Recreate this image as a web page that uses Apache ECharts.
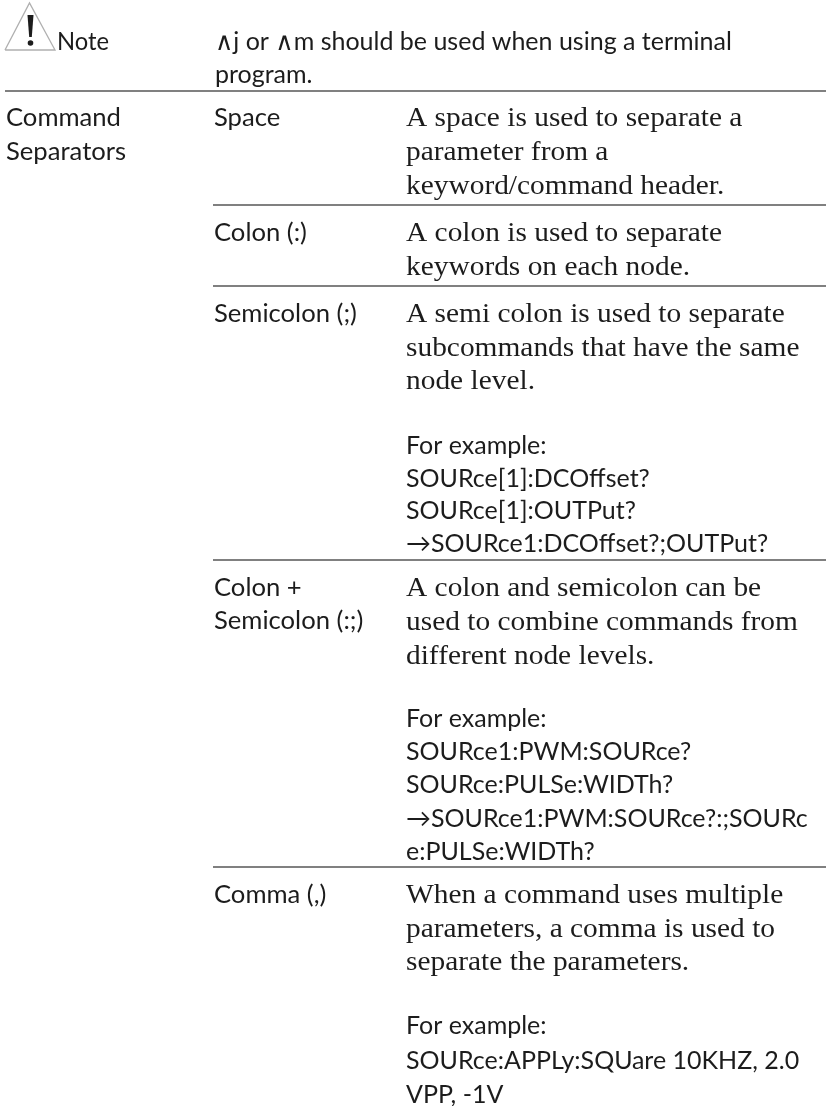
<!DOCTYPE html>
<html>
<head>
<meta charset="utf-8">
<style>
html,body{margin:0;padding:0;background:#fff}
#container{width:826px;height:1106px}
</style>
<script src="https://cdn.jsdelivr.net/npm/echarts@6/dist/echarts.min.js"></script>
</head>
<body>
<div id="container"></div>
<script>
var noteLabel = 'Note';
var noteLines = ['∧j or ∧m should be used when using a terminal', 'program.'];
var sectionLines = ['Command', 'Separators'];

var spaceLabel = ['Space'];
var spaceText = ['A space is used to separate a', 'parameter from a', 'keyword/command header.'];

var colonLabel = ['Colon (:)'];
var colonText = ['A colon is used to separate', 'keywords on each node.'];

var semicolonLabel = ['Semicolon (;)'];
var semicolonText = ['A semi colon is used to separate', 'subcommands that have the same', 'node level.'];
var semicolonExample = ['For example:', 'SOURce[1]:DCOffset?', 'SOURce[1]:OUTPut?', '→SOURce1:DCOffset?;OUTPut?'];

var bothLabel = ['Colon +', 'Semicolon (:;)'];
var bothText = ['A colon and semicolon can be', 'used to combine commands from', 'different node levels.'];
var bothExample = ['For example:', 'SOURce1:PWM:SOURce?', 'SOURce:PULSe:WIDTh?', '→SOURce1:PWM:SOURce?:;SOURc', 'e:PULSe:WIDTh?'];

var commaLabel = ['Comma (,)'];
var commaText = ['When a command uses multiple', 'parameters, a comma is used to', 'separate the parameters.'];
var commaExample = ['For example:', 'SOURce:APPLy:SQUare 10KHZ, 2.0', 'VPP, -1V'];

var SANS = 'Lato, "Noto Sans", "DejaVu Sans", sans-serif';
var SERIF = '"Liberation Serif", serif';
var els = [];

// one block of lines, sx stretches the font a little to the width in the picture
function addLines(lines, x, y, font, sx, pitch){
	for(var i = 0; i < lines.length; i++){
		els.push({
			type: 'text', silent: true, x: x, y: y + i * pitch,
			scaleX: sx,
			style: {
				text: lines[i], x: 0, y: 0, fill: '#1c1c1c',
				font: font,
				align: 'left', verticalAlign: 'middle'
			}
		});
	}
}
function addSans(lines, x, y, pitch){ addLines(lines, x, y, '25px ' + SANS, 1, pitch); }
function addLabel(lines, x, y, pitch){ addLines(lines, x, y, '25px ' + SANS, 1.025, pitch); }
function addSerif(lines, x, y, pitch){ addLines(lines, x, y + 1, '28px ' + SERIF, 1.05, pitch); }
function addRule(x1, y){
	els.push({type: 'line', silent: true, shape: {x1: x1, y1: y, x2: 826, y2: y}, style: {stroke: '#808080', lineWidth: 2}});
}

// warning sign
els.push({type: 'polyline', silent: true, shape: {points: [[5, 50], [29.5, 3], [55, 50], [5, 50]]}, style: {stroke: '#b0b0b0', lineWidth: 1.3, fill: null}});
els.push({type: 'polygon', silent: true, shape: {points: [[27.5, 15], [33.5, 15], [31.8, 37], [29.2, 37]]}, style: {fill: '#1c1c1c'}});
els.push({type: 'circle', silent: true, shape: {cx: 30.5, cy: 43, r: 2.8}, style: {fill: '#1c1c1c'}});

addLines([noteLabel], 57, 42, '25px ' + SANS, 0.95, 33);
addSans(noteLines, 215, 42, 33);
addRule(5, 91);
addLabel(sectionLines, 6, 118, 34);

addLabel(spaceLabel, 214, 118, 34);
addSerif(spaceText, 406, 118, 34);
addRule(213, 205);

addLabel(colonLabel, 214, 233, 34);
addSerif(colonText, 406, 233, 34);
addRule(213, 286);

addLabel(semicolonLabel, 214, 314, 34);
addSerif(semicolonText, 406, 314, 33.5);
addSans(semicolonExample, 406, 446, 32.5);
addRule(213, 560);

addLabel(bothLabel, 214, 588, 33);
addSerif(bothText, 406, 588, 34);
addSans(bothExample, 406, 719, 33.2);
addRule(213, 867);

addLabel(commaLabel, 214, 895, 34);
addSerif(commaText, 406, 895, 33.5);
addSans(commaExample, 406, 1026, 34.5);

var myChart = echarts.init(document.getElementById('container'));
myChart.setOption({animation: false, backgroundColor: '#fff', graphic: {elements: els}});
</script>
</body>
</html>
